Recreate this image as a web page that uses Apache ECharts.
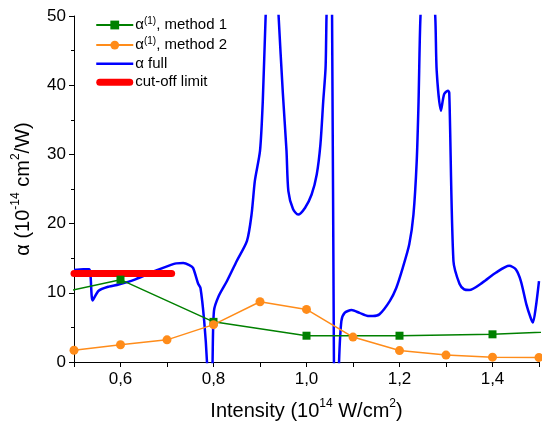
<!DOCTYPE html>
<html>
<head>
<meta charset="utf-8">
<script src="https://cdn.jsdelivr.net/npm/echarts@6/dist/echarts.min.js"></script>
<style>
html,body{margin:0;padding:0;background:#fff;}
#chart{width:542px;height:428px;}
</style>
</head>
<body>
<div id="chart"></div>
<script>
// ---- data ----
const method1X = [0.4, 0.6, 0.8, 1.0, 1.2, 1.4, 1.6];
const method1Y = [9.0, 11.9, 5.8, 3.8, 3.8, 4.0, 4.6];

const method2X = [0.5, 0.6, 0.7, 0.8, 0.9, 1.0, 1.1, 1.2, 1.3, 1.4, 1.5];
const method2Y = [1.7, 2.5, 3.2, 5.4, 8.7, 7.6, 3.6, 1.65, 1.0, 0.7, 0.65];

const fullX = [0.5, 0.52, 0.533, 0.54, 0.553, 0.575, 0.596, 0.632, 0.674, 0.703, 0.72, 0.735, 0.748, 0.756, 0.767, 0.772, 0.78, 0.786, 0.79, 0.796, 0.798, 0.801, 0.811, 0.829, 0.85, 0.872, 0.882, 0.889, 0.9, 0.906, 0.912, 0.925, 0.94, 0.949, 0.957, 0.961, 0.971, 0.982, 0.997, 1.011, 1.022, 1.03, 1.036, 1.041, 1.043, 1.049, 1.055, 1.059, 1.063, 1.068, 1.07, 1.075, 1.082, 1.097, 1.114, 1.132, 1.143, 1.157, 1.179, 1.193, 1.207, 1.221, 1.23, 1.237, 1.241, 1.245, 1.26, 1.277, 1.28, 1.289, 1.296, 1.304, 1.307, 1.316, 1.329, 1.339, 1.35, 1.379, 1.407, 1.436, 1.45, 1.461, 1.473, 1.482, 1.487, 1.493, 1.5];
const fullY = [13.3, 13.4, 13.4, 8.9, 10.3, 10.9, 11.2, 11.95, 13.15, 13.9, 14.25, 14.3, 14.0, 13.6, 11.3, 10.7, 5.9, 0, -8, -8, 0, 7.4, 9.5, 11.7, 14.6, 17.5, 21.4, 26.2, 30.5, 37.7, 49.75, 70, 50, 39, 30.5, 24.7, 22.1, 21.3, 22.3, 24.2, 27.1, 31.5, 37.7, 42.5, 49.8, 65, 49.8, 0, -8, -8, 0, 5.9, 7.1, 7.5, 7.1, 6.65, 6.65, 6.9, 8.8, 10.7, 13.6, 17.0, 21.3, 29.0, 37.7, 49.75, 70, 49.75, 42.05, 36.3, 38.7, 39.2, 38.9, 14.6, 11.3, 10.5, 10.4, 11.5, 12.9, 13.9, 13.4, 11.7, 8.3, 6.4, 5.7, 7.85, 11.7];

const cutoffX = [0.5, 0.71];
const cutoffY = [12.8, 12.8];

const legendLabels = {
  m1: '{t|α}{s|(1)}{t|, method 1}',
  m2: '{t|α}{s|(1)}{t|, method 2}',
  full: '{t|α full}',
  cut: '{t|cut-off limit}'
};

const xMin = 0.5, xMax = 1.5, xStep = 0.1;
const yMin = 0, yMax = 50, yStep = 10;

function zip(xs, ys) { return xs.map((x, i) => [x, ys[i]]); }

const chart = echarts.init(document.getElementById('chart'), null, {renderer: 'canvas'});
const font = 'Liberation Sans, Arial, sans-serif';
const nameRich = {
  t: {fontSize: 20, fontFamily: font, color: '#000', lineHeight: 26},
  s: {fontSize: 12, fontFamily: font, color: '#000', lineHeight: 26, verticalAlign: 'top', padding: [0, 0, 9, 0]}
};

chart.setOption({
  animation: false,
  backgroundColor: '#fff',
  grid: {left: 74, right: 3, top: 16, bottom: 66, containLabel: false},
  legend: {
    orient: 'vertical',
    left: 95,
    top: 16,
    padding: 0,
    itemWidth: 37,
    itemHeight: 11,
    itemGap: 3.6,
    data: [
      {name: 'm1'},
      {name: 'm2'},
      {name: 'full', itemStyle: {opacity: 0}, lineStyle: {width: 2.5}},
      {name: 'cut', icon: 'path://M3.5,0 L33.5,0 A3.5,3.5 0 0 1 33.5,7 L3.5,7 A3.5,3.5 0 0 1 3.5,0 Z'}
    ],
    formatter: n => legendLabels[n],
    textStyle: {
      fontFamily: font,
      color: '#000',
      padding: [0, 0, 0, -3],
      rich: {
        t: {fontSize: 15, fontFamily: font, color: '#000', lineHeight: 18},
        s: {fontSize: 10, fontFamily: font, color: '#000', lineHeight: 18, verticalAlign: 'top', padding: [0, 0, 6, 0]}
      }
    }
  },
  xAxis: {
    type: 'value',
    min: xMin, max: xMax, interval: xStep,
    axisLine: {show: true, onZero: false, lineStyle: {color: '#000', width: 1}},
    axisTick: {show: true, inside: false, length: 5, lineStyle: {color: '#000'}},
    splitLine: {show: false},
    axisLabel: {
      fontSize: 17, fontFamily: font, color: '#000', margin: 9,
      formatter: v => (Math.round(v * 10) % 2 === 0) ? v.toFixed(1).replace('.', ',') : ''
    },
    name: '{t|Intensity (10}{s|14}{t| W/cm}{s|2}{t|)}',
    nameLocation: 'middle',
    nameGap: 36,
    nameTextStyle: {rich: nameRich}
  },
  yAxis: {
    type: 'value',
    min: yMin, max: yMax, interval: yStep,
    axisLine: {show: true, onZero: false, lineStyle: {color: '#000', width: 1}},
    axisTick: {show: true, inside: false, length: 5, lineStyle: {color: '#000'}},
    minorTick: {show: true, splitNumber: 2, length: 3, lineStyle: {color: '#000'}},
    splitLine: {show: false},
    axisLabel: {fontSize: 17, fontFamily: font, color: '#000', margin: 8},
    name: '{t|α (10}{s|-14}{t| cm}{s|2}{t|/W)}',
    nameLocation: 'middle',
    nameRotate: 90,
    nameGap: 38,
    nameTextStyle: {rich: nameRich}
  },
  series: [
    {
      name: 'm1', type: 'line', data: zip(method1X, method1Y), clip: true, z: 4,
      symbol: 'rect', symbolSize: 8, showAllSymbol: true,
      lineStyle: {color: '#008000', width: 1.5},
      itemStyle: {color: '#008000'}
    },
    {
      name: 'm2', type: 'line', data: zip(method2X, method2Y), clip: true, z: 5,
      symbol: 'circle', symbolSize: 9, showAllSymbol: true,
      lineStyle: {color: '#FF8C1A', width: 1.5},
      itemStyle: {color: '#FF8C1A'}
    },
    {
      name: 'full', type: 'line', data: zip(fullX, fullY), clip: true, z: 2,
      symbol: 'none', smooth: 0.25,
      lineStyle: {color: '#0000FF', width: 2.5, join: 'round'},
      itemStyle: {color: '#0000FF'}
    },
    {
      name: 'cut', type: 'line', data: zip(cutoffX, cutoffY), clip: true, z: 3,
      symbol: 'none',
      lineStyle: {color: '#FF0000', width: 7, cap: 'round'},
      itemStyle: {color: '#FF0000'}
    }
  ]
});
</script>
</body>
</html>
